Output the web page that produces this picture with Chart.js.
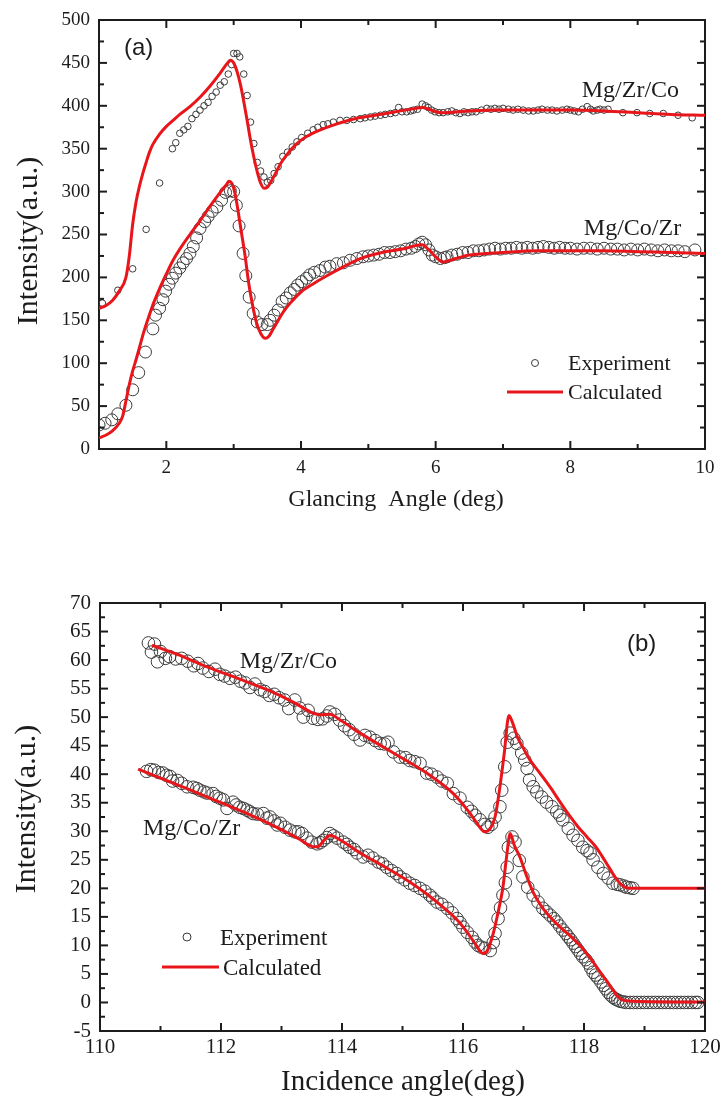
<!DOCTYPE html>
<html>
<head>
<meta charset="utf-8">
<script src="https://cdn.jsdelivr.net/npm/chart.js@4.4.1/dist/chart.umd.min.js"></script>
<style>
body { margin: 0; background: #fff; }
#wrap { position: relative; width: 721px; height: 1098px; }
canvas { position: absolute; left: 0; }
#c1 { top: 0; }
#c2 { top: 540px; }
</style>
</head>
<body>
<div id="wrap">
<canvas id="c1" width="721" height="540"></canvas>
<canvas id="c2" width="721" height="558"></canvas>
</div>
<script>
// (a) glancing angle scan, [angle, intensity]
const calcA_ZrCo = [[1.0,164],[1.1,167],[1.2,173],[1.3,184],[1.4,200],[1.45,225],[1.5,262],[1.55,288],[1.6,306],[1.65,321],[1.7,334],[1.75,346],[1.8,355],[1.9,367],[2.0,376],[2.1,383],[2.2,390],[2.35,399],[2.5,410],[2.65,423],[2.8,438],[2.9,449],[2.95,453],[3.0,450],[3.05,440],[3.1,425],[3.15,405],[3.2,383],[3.25,360],[3.3,340],[3.35,323],[3.4,310],[3.45,304],[3.5,305],[3.55,311],[3.6,318],[3.7,333],[3.8,344],[3.9,353],[4.0,360],[4.2,369],[4.5,378],[4.8,385],[5.1,389],[5.4,393],[5.7,397],[5.8,398],[5.9,396],[6.0,393],[6.1,392],[6.5,394],[7.0,395],[7.5,395],[8.0,395],[8.5,394],[9.0,392],[9.5,390],[10.0,389]];
const calcA_CoZr = [[1.0,13],[1.1,16],[1.2,21],[1.3,30],[1.35,38],[1.4,56],[1.45,75],[1.5,91],[1.55,104],[1.6,118],[1.66,135],[1.73,152],[1.81,170],[1.9,187],[2.0,204],[2.1,220],[2.2,233],[2.35,250],[2.5,266],[2.65,283],[2.8,299],[2.9,309],[2.93,312],[2.97,310],[3.02,298],[3.07,275],[3.12,250],[3.17,225],[3.22,195],[3.28,168],[3.34,147],[3.4,135],[3.47,129],[3.52,131],[3.58,139],[3.64,147],[3.74,160],[3.84,170],[4.0,183],[4.19,193],[4.48,206],[4.88,222],[5.2,229],[5.5,233],[5.8,238],[5.9,232],[6.0,224],[6.11,218],[6.3,222],[6.5,226],[7.0,229],[7.5,231],[8.0,231],[8.5,231],[9.0,230],[9.5,229],[10.0,228]];
const expA_ZrCo = [[1.05,170],[1.28,185],[1.5,210],[1.7,256],[1.9,310],[2.09,350],[2.14,357],[2.2,368],[2.26,372],[2.32,376],[2.38,385],[2.44,390],[2.5,395],[2.56,400],[2.62,404],[2.68,411],[2.74,416],[2.8,424],[2.86,428],[2.92,437],[2.97,448],[3.0,461],[3.05,461],[3.09,457],[3.15,437],[3.2,412],[3.25,381],[3.3,356],[3.35,334],[3.4,324],[3.45,317],[3.5,311],[3.55,313],[3.6,321],[3.66,329],[3.73,341],[3.8,346],[3.87,352],[3.94,358],[4.01,363],[4.1,368],[4.18,372],[4.25,375],[4.33,378],[4.4,379],[4.48,381],[4.58,383],[4.68,383],[4.78,384],[4.88,385],[4.95,386],[5.03,387],[5.1,388],[5.18,389],[5.25,390],[5.33,391],[5.4,392],[5.45,398],[5.5,393],[5.57,393],[5.63,394],[5.67,395],[5.73,396],[5.8,402],[5.85,400],[5.89,398],[5.94,395],[5.99,393],[6.05,392],[6.11,392],[6.18,393],[6.24,394],[6.3,392],[6.36,391],[6.42,393],[6.48,392],[6.54,393],[6.6,393],[6.68,395],[6.76,397],[6.82,396],[6.88,397],[6.94,396],[7.0,397],[7.08,396],[7.15,395],[7.22,396],[7.3,395],[7.38,394],[7.45,394],[7.52,395],[7.58,396],[7.66,395],[7.73,395],[7.8,394],[7.88,395],[7.95,396],[8.0,395],[8.06,394],[8.12,393],[8.18,396],[8.25,399],[8.3,396],[8.34,394],[8.4,395],[8.44,396],[8.5,395],[8.56,396],[8.78,392],[8.99,392],[9.18,391],[9.38,391],[9.6,389],[9.81,386]];
const expA_CoZr = [[1.0,28],[1.09,30],[1.19,34],[1.28,41],[1.4,51],[1.5,69],[1.59,89],[1.69,113],[1.8,140],[1.84,156],[1.9,164],[1.95,174],[1.99,184],[2.04,192],[2.09,199],[2.14,205],[2.2,211],[2.25,217],[2.3,222],[2.35,228],[2.4,236],[2.45,246],[2.5,257],[2.57,265],[2.62,271],[2.68,277],[2.75,282],[2.82,290],[2.88,299],[2.95,301],[3.0,300],[3.04,284],[3.08,260],[3.14,228],[3.18,202],[3.23,177],[3.29,158],[3.35,148],[3.42,145],[3.5,145],[3.54,150],[3.6,156],[3.66,162],[3.72,172],[3.78,176],[3.84,182],[3.9,186],[3.95,191],[4.01,195],[4.08,199],[4.13,203],[4.2,206],[4.28,208],[4.36,212],[4.43,213],[4.53,216],[4.63,217],[4.73,220],[4.83,222],[4.92,224],[5.0,225],[5.08,226],[5.16,227],[5.24,229],[5.32,229],[5.4,230],[5.48,231],[5.56,233],[5.64,234],[5.7,236],[5.75,239],[5.8,241],[5.85,238],[5.9,232],[5.95,226],[6.0,224],[6.07,222],[6.13,223],[6.17,224],[6.24,226],[6.32,227],[6.4,229],[6.48,229],[6.56,231],[6.64,231],[6.72,232],[6.8,233],[6.88,234],[6.96,233],[7.04,234],[7.12,234],[7.2,235],[7.28,234],[7.36,235],[7.44,234],[7.52,235],[7.6,236],[7.68,235],[7.76,234],[7.84,235],[7.92,234],[8.0,234],[8.1,233],[8.2,234],[8.3,234],[8.4,233],[8.5,234],[8.6,233],[8.7,233],[8.8,232],[8.9,233],[9.0,232],[9.1,233],[9.2,232],[9.3,231],[9.4,232],[9.5,231],[9.6,231],[9.7,230],[9.85,232]];

// (b) incidence angle scan
const calcB_ZrCo = [[110.86,62.6],[111.3,60.9],[111.77,58.8],[112.3,56.7],[112.76,54.8],[113.2,52.6],[113.52,50.7],[113.64,50.4],[113.8,50.5],[113.97,49.5],[114.3,47.2],[114.85,43.7],[115.4,40.2],[115.84,36.6],[116.12,33.1],[116.3,30.4],[116.36,29.9],[116.45,30.5],[116.53,32.5],[116.6,37],[116.68,43.5],[116.76,50.3],[116.82,49],[116.9,46.5],[116.99,44.7],[117.1,42.6],[117.27,40.2],[117.45,37.6],[117.6,35.2],[117.77,32.6],[117.9,30.8],[118.05,29.0],[118.2,27.2],[118.3,25.6],[118.4,23.9],[118.5,22.2],[118.6,20.8],[118.7,20.1],[118.8,20.0],[119.5,20.0],[120.0,20.0]];
const calcB_CoZr = [[110.63,40.9],[111.0,39.3],[111.5,37.2],[112.0,35.0],[112.5,32.8],[113.0,30.3],[113.3,28.6],[113.52,27.3],[113.6,27.3],[113.7,28.4],[113.8,29.3],[113.95,28.6],[114.3,26.2],[114.7,23.8],[115.12,21.1],[115.4,19.0],[115.67,16.7],[115.9,14.5],[116.07,12.3],[116.2,10.3],[116.33,8.6],[116.4,9.0],[116.5,12.1],[116.58,15.8],[116.66,20.2],[116.72,25.5],[116.78,29.6],[116.85,27.5],[116.94,25.5],[117.05,22.2],[117.16,19.3],[117.3,16.8],[117.49,14.4],[117.65,12.8],[117.82,11.2],[117.95,9.8],[118.1,7.8],[118.25,5.6],[118.38,3.7],[118.48,2.2],[118.56,1.0],[118.65,0.4],[118.8,0.2],[119.5,0.1],[120.0,0.1]];
const expB_ZrCo = [[110.8,63.0],[110.85,61.4],[110.9,62.8],[110.95,59.7],[111.0,61.5],[111.08,60.3],[111.15,60.6],[111.25,60.2],[111.35,60.3],[111.45,59.8],[111.55,59.0],[111.62,59.4],[111.7,58.6],[111.8,58.0],[111.9,58.4],[111.98,57.5],[112.06,57.2],[112.15,56.8],[112.24,57.0],[112.32,56.3],[112.4,56.0],[112.48,55.2],[112.56,55.8],[112.65,54.8],[112.72,54.5],[112.8,53.8],[112.88,54.0],[112.96,53.4],[113.05,53.0],[113.12,51.5],[113.22,53.0],[113.3,51.6],[113.36,50.0],[113.44,51.2],[113.52,49.8],[113.6,49.6],[113.68,49.7],[113.75,50.2],[113.8,50.9],[113.88,50.5],[113.96,49.5],[114.04,48.5],[114.12,47.8],[114.2,47.0],[114.3,46.0],[114.38,46.8],[114.46,46.5],[114.55,45.9],[114.63,45.4],[114.7,45.3],[114.76,45.6],[114.85,43.9],[114.96,43.0],[115.05,42.9],[115.12,42.4],[115.2,42.2],[115.29,41.9],[115.4,40.2],[115.48,40.0],[115.57,39.5],[115.65,38.8],[115.74,38.4],[115.84,36.6],[115.95,35.8],[116.07,34.2],[116.14,33.5],[116.2,32.8],[116.28,32.0],[116.36,31.2],[116.41,30.7],[116.47,31.2],[116.53,32.5],[116.61,34.3],[116.64,37.2],[116.69,41.3],[116.73,45.6],[116.78,47.2],[116.84,46.3],[116.89,45.4],[116.97,43.7],[117.02,42.5],[117.06,41.0],[117.1,39.0],[117.16,37.8],[117.22,36.9],[117.3,36.0],[117.38,35.1],[117.47,34.3],[117.55,33.4],[117.6,32.8],[117.65,32.0],[117.74,30.5],[117.82,29.3],[117.9,28.4],[117.98,27.2],[118.05,26.6],[118.1,26.2],[118.15,25.0],[118.23,23.7],[118.32,22.6],[118.4,21.8],[118.48,20.9],[118.55,20.7],[118.6,20.6],[118.66,20.4],[118.7,20.2],[118.76,20.1],[118.81,20.0]];
const expB_CoZr = [[110.77,40.5],[110.84,40.8],[110.9,40.7],[110.97,40.3],[111.04,40.2],[111.1,39.8],[111.16,39.6],[111.2,38.8],[111.28,38.9],[111.35,38.4],[111.44,37.8],[111.54,37.7],[111.6,37.5],[111.65,37.2],[111.72,36.9],[111.77,36.7],[111.87,36.6],[111.92,36.1],[111.98,35.8],[112.04,35.5],[112.1,34.0],[112.2,35.1],[112.25,34.6],[112.31,34.2],[112.37,34.0],[112.43,33.7],[112.48,33.4],[112.53,33.1],[112.6,33.0],[112.7,33.1],[112.76,32.3],[112.81,32.5],[112.88,31.8],[112.93,31.1],[112.98,31.4],[113.06,30.7],[113.14,30.2],[113.22,29.9],[113.28,29.9],[113.34,29.6],[113.42,28.8],[113.5,28.1],[113.59,27.8],[113.64,28.0],[113.69,28.4],[113.75,28.9],[113.8,29.6],[113.86,29.2],[113.92,28.8],[114.02,28.1],[114.08,27.7],[114.13,27.2],[114.2,26.8],[114.25,26.2],[114.35,25.5],[114.43,25.8],[114.51,25.3],[114.6,24.6],[114.67,24.3],[114.74,23.7],[114.82,23.1],[114.9,22.6],[114.96,22.0],[115.04,21.5],[115.12,20.9],[115.2,20.5],[115.29,20.0],[115.37,19.5],[115.45,18.8],[115.5,18.3],[115.57,17.6],[115.65,17.2],[115.74,16.5],[115.82,15.7],[115.9,14.7],[115.95,14.0],[116.0,13.2],[116.07,12.3],[116.15,11.4],[116.2,10.6],[116.25,10.0],[116.3,9.7],[116.36,9.5],[116.45,9.1],[116.5,10.5],[116.53,12.1],[116.58,14.7],[116.62,16.6],[116.66,18.8],[116.7,21.0],[116.73,23.7],[116.75,27.2],[116.81,29.0],[116.86,28.1],[116.93,24.9],[116.99,22.0],[117.07,20.2],[117.16,18.8],[117.24,17.6],[117.32,16.5],[117.38,15.9],[117.44,15.3],[117.5,14.7],[117.55,14.1],[117.6,13.4],[117.65,12.7],[117.7,12.1],[117.74,11.5],[117.78,11.0],[117.82,10.4],[117.86,9.8],[117.9,9.2],[117.94,8.6],[117.98,8.0],[118.03,7.5],[118.07,6.9],[118.11,6.1],[118.15,5.3],[118.19,4.8],[118.23,4.3],[118.28,3.6],[118.32,3.0],[118.36,2.4],[118.4,1.8],[118.44,1.3],[118.48,0.9],[118.52,0.6],[118.56,0.4],[118.6,0.2],[118.65,0.1],[118.7,0.0],[118.76,0],[118.82,0],[118.88,0],[118.94,0],[119.0,0],[119.06,0],[119.12,0],[119.18,0],[119.24,0],[119.3,0],[119.36,0],[119.42,0],[119.48,0],[119.54,0],[119.6,0],[119.66,0],[119.72,0],[119.78,0],[119.84,0],[119.88,0]];

const INK = '#1c1c1c';
const RED = '#e8161b';
const CIRC = '#3c3c3c';
const SERIF = '"Liberation Serif", "Times New Roman", serif';
const SANS = '"Liberation Sans", Arial, sans-serif';

const pts = arr => arr.map(p => ({ x: p[0], y: p[1] }));
const isMult = (v, step) => Math.abs(v / step - Math.round(v / step)) < 1e-6;
const every = step => v => isMult(v, step) ? v : '';

function lineSet(arr) {
    return { data: pts(arr), showLine: true, borderColor: RED, borderWidth: 3, pointRadius: 0, fill: false, cubicInterpolationMode: 'monotone' };
}
function dotSet(arr, r) {
    return { data: pts(arr), showLine: false, pointRadius: r, pointBorderColor: CIRC, pointBackgroundColor: 'rgba(0,0,0,0)', pointBorderWidth: 1 };
}

// one axis; size fixes the box so the plot area lands where the reference has it
function axis(pos, min, max, step, major, label, fontSize, pad, size) {
    const horiz = pos === 'top' || pos === 'bottom';
    return {
        type: 'linear', position: pos, min, max,
        ticks: { stepSize: step, autoSkip: false, maxRotation: 0, display: label, callback: label ? every(major) : () => '', color: INK, padding: pad, font: { family: SERIF, size: fontSize } },
        grid: { drawOnChartArea: false, drawTicks: false, tickLength: 0 },
        border: { display: true, color: INK, width: 2 },
        afterFit(s) {
            if (horiz) s.height = size; else s.width = size;
            s.paddingLeft = s.paddingRight = s.paddingTop = s.paddingBottom = 0;
        }
    };
}

// inward tick marks on all four sides
function drawTicks(chart, majors) {
    const ctx = chart.ctx, a = chart.chartArea;
    ctx.strokeStyle = INK; ctx.lineWidth = 2;
    ['x', 'x2', 'y', 'y2'].forEach(id => {
        const s = chart.scales[id];
        const major = id[0] === 'x' ? majors[0] : majors[1];
        s.ticks.forEach(t => {
            const p = s.getPixelForValue(t.value);
            const len = isMult(t.value, major) ? 8 : 5;
            ctx.beginPath();
            if (id === 'x') { ctx.moveTo(p, a.bottom); ctx.lineTo(p, a.bottom - len); }
            else if (id === 'x2') { ctx.moveTo(p, a.top); ctx.lineTo(p, a.top + len); }
            else if (id === 'y') { ctx.moveTo(a.left, p); ctx.lineTo(a.left + len, p); }
            else { ctx.moveTo(a.right, p); ctx.lineTo(a.right - len, p); }
            ctx.stroke();
        });
    });
}

// ticks, titles, panel labels, curve labels and the legend
function decorPlugin(majors, items) {
    return {
        id: 'decor',
        afterDraw(chart) {
            const ctx = chart.ctx;
            ctx.save();
            drawTicks(chart, majors);
            items.forEach(t => {
                if (t.kind === 'dot') {
                    ctx.beginPath(); ctx.arc(t.x, t.y, t.r, 0, Math.PI * 2);
                    ctx.strokeStyle = CIRC; ctx.lineWidth = 1; ctx.stroke();
                    return;
                }
                if (t.kind === 'line') {
                    ctx.beginPath(); ctx.moveTo(t.x1, t.y); ctx.lineTo(t.x2, t.y);
                    ctx.strokeStyle = RED; ctx.lineWidth = 3; ctx.stroke();
                    return;
                }
                let x = t.x, y = t.y;
                if (t.dx !== undefined) {
                    x = chart.scales.x.getPixelForValue(t.dx);
                    y = chart.scales.y.getPixelForValue(t.dy);
                }
                ctx.font = t.font; ctx.fillStyle = INK;
                ctx.textAlign = t.align || 'left'; ctx.textBaseline = 'alphabetic';
                if (t.rot) {
                    ctx.save(); ctx.translate(x, y); ctx.rotate(t.rot); ctx.fillText(t.text, 0, 0); ctx.restore();
                } else ctx.fillText(t.text, x, y);
            });
            ctx.restore();
        }
    };
}

function makeChart(id, datasets, scales, padding, majors, items) {
    return new Chart(document.getElementById(id), {
        type: 'scatter',
        data: { datasets },
        options: {
            responsive: false, animation: false, devicePixelRatio: 1,
            layout: { padding },
            plugins: { legend: { display: false }, tooltip: { enabled: false } },
            scales
        },
        plugins: [decorPlugin(majors, items)]
    });
}

// chart (a)
makeChart('c1',
    [lineSet(calcA_ZrCo), lineSet(calcA_CoZr), dotSet(expA_ZrCo, 3.3), dotSet(expA_CoZr, 6)],
    {
        x: axis('bottom', 1, 10, 1, 2, true, 19, 8, 91),
        x2: axis('top', 1, 10, 1, 2, false, 19, 0, 0),
        y: axis('left', 0, 500, 25, 50, true, 19, 9, 99),
        y2: axis('right', 0, 500, 25, 50, false, 19, 0, 0)
    },
    { left: 0, right: 16, top: 20, bottom: 0 },
    [2, 50],
    [
        { text: 'Intensity(a.u.)', x: 37, y: 241, rot: -Math.PI / 2, align: 'center', font: `30px ${SERIF}` },
        { text: 'Glancing  Angle (deg)', x: 396, y: 506, align: 'center', font: `24px ${SERIF}` },
        { text: '(a)', x: 124, y: 55, font: `24px ${SANS}` },
        { text: 'Mg/Zr/Co', dx: 8.17, dy: 410, font: `24px ${SERIF}` },
        { text: 'Mg/Co/Zr', dx: 8.2, dy: 249, font: `24px ${SERIF}` },
        { kind: 'dot', x: 535, y: 363, r: 3.5 },
        { text: 'Experiment', x: 568, y: 370, font: `22px ${SERIF}` },
        { kind: 'line', x1: 507, x2: 563, y: 392 },
        { text: 'Calculated', x: 568, y: 399, font: `22px ${SERIF}` }
    ]);

// chart (b)
makeChart('c2',
    [lineSet(calcB_ZrCo), lineSet(calcB_CoZr), dotSet(expB_ZrCo, 6.3), dotSet(expB_CoZr, 6.3)],
    {
        x: axis('bottom', 110, 120, 1, 2, true, 21, 4, 67),
        x2: axis('top', 110, 120, 1, 2, false, 21, 0, 0),
        y: axis('left', -5, 70, 2.5, 5, true, 21, 9, 100),
        y2: axis('right', -5, 70, 2.5, 5, false, 21, 0, 0)
    },
    { left: 0, right: 16, top: 63, bottom: 0 },
    [2, 5],
    [
        { text: 'Intensity(a.u.)', x: 35, y: 269, rot: -Math.PI / 2, align: 'center', font: `30px ${SERIF}` },
        { text: 'Incidence angle(deg)', x: 403, y: 550, align: 'center', font: `29px ${SERIF}` },
        { text: '(b)', x: 627, y: 111, font: `24px ${SANS}` },
        { text: 'Mg/Zr/Co', dx: 112.31, dy: 58.6, font: `24px ${SERIF}` },
        { text: 'Mg/Co/Zr', dx: 110.71, dy: 29.3, font: `24px ${SERIF}` },
        { kind: 'dot', x: 187, y: 397, r: 4 },
        { text: 'Experiment', x: 220, y: 405, font: `23px ${SERIF}` },
        { kind: 'line', x1: 162, x2: 219, y: 427 },
        { text: 'Calculated', x: 223, y: 435, font: `23px ${SERIF}` }
    ]);
</script>
</body>
</html>
